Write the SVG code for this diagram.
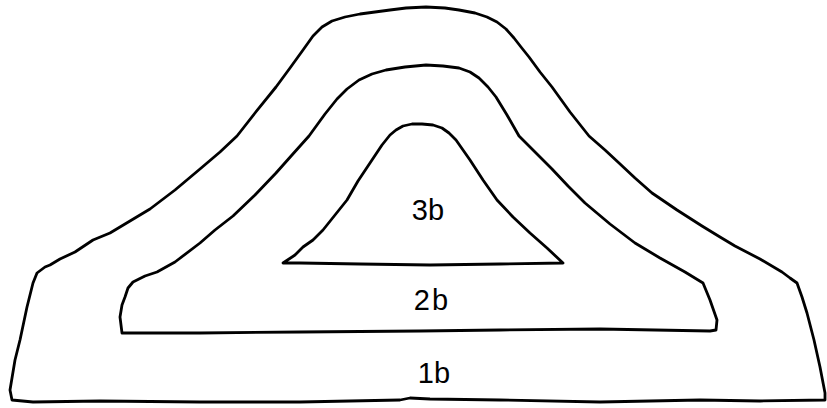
<svg xmlns="http://www.w3.org/2000/svg" width="827" height="408" viewBox="0 0 827 408">
<style>
.ln{fill:none;stroke:#000;stroke-width:2.8;stroke-linejoin:round;stroke-linecap:round}
.lb{font-family:"Liberation Sans",Arial,sans-serif;font-size:29px;fill:#000;text-anchor:middle}
</style>
<rect width="827" height="408" fill="#fff"/>
<g id="layer1b">
<path class="ln" d="M12,400 L10,390 L15,360 L20,340 L27,307 L33,283 L37,273 L45,267 L50,265 L60,259 L75,252 L93,240 L110,233 L130,221 L150,209 L175,190 L200,169 L220,152 L237,136 L255,113 L276,87 L290,68 L303,50 L313,36 L322,27 L332,21 L345,17 L360,14 L375,12 L390,10 L406,8 L426,7 L445,8 L459,10 L475,13 L487,17 L497,22 L506,29 L514,38 L521,47 L529,57 L540,72 L552,87 L570,112 L589,136 L605,150 L619,163 L635,178 L652,193 L677,210 L702,226 L720,237 L735,246 L760,259 L782,272 L790,278 L797,283 L802,297 L807,313 L814,340 L820,367 L825,393 L825,400 L760,401 L700,400 L600,402 L500,400 L430,399 L410,398 L400,400 L300,402 L200,402 L100,401 L33,402 Z"/>
<text class="lb" x="434" y="383">1b</text>
</g>
<g id="layer2b">
<path class="ln" d="M122,333 L120,317 L122,305 L125,297 L128,288 L133,282 L145,276 L157,272 L175,262 L200,243 L215,230 L233,216 L255,195 L276,173 L292,155 L309,136 L325,114 L337,99 L347,89 L359,80 L372,74 L386,70 L405,67 L426,65 L443,66 L459,68 L470,72 L479,78 L488,87 L496,97 L507,115 L519,136 L535,152 L552,169 L568,186 L585,203 L610,224 L635,243 L660,258 L685,272 L703,283 L710,300 L717,320 L716,330 L710,331 L600,329 L500,330 L420,331 L300,332 L200,333 L150,333 Z"/>
<text class="lb" x="432" y="310" letter-spacing="2">2b</text>
</g>
<g id="layer3b">
<path class="ln" d="M283,263 L295,255 L303,247 L313,240 L323,230 L335,215 L347,200 L358,181 L370,163 L382,145 L390,135 L396,130 L403,126 L412,124 L422,124 L433,125 L442,128 L449,133 L456,140 L463,150 L470,160 L483,180 L497,200 L513,217 L530,233 L547,248 L563,263 L500,264 L430,265 L360,264 L300,263 Z"/>
<text class="lb" x="428" y="220">3b</text>
</g>
</svg>
